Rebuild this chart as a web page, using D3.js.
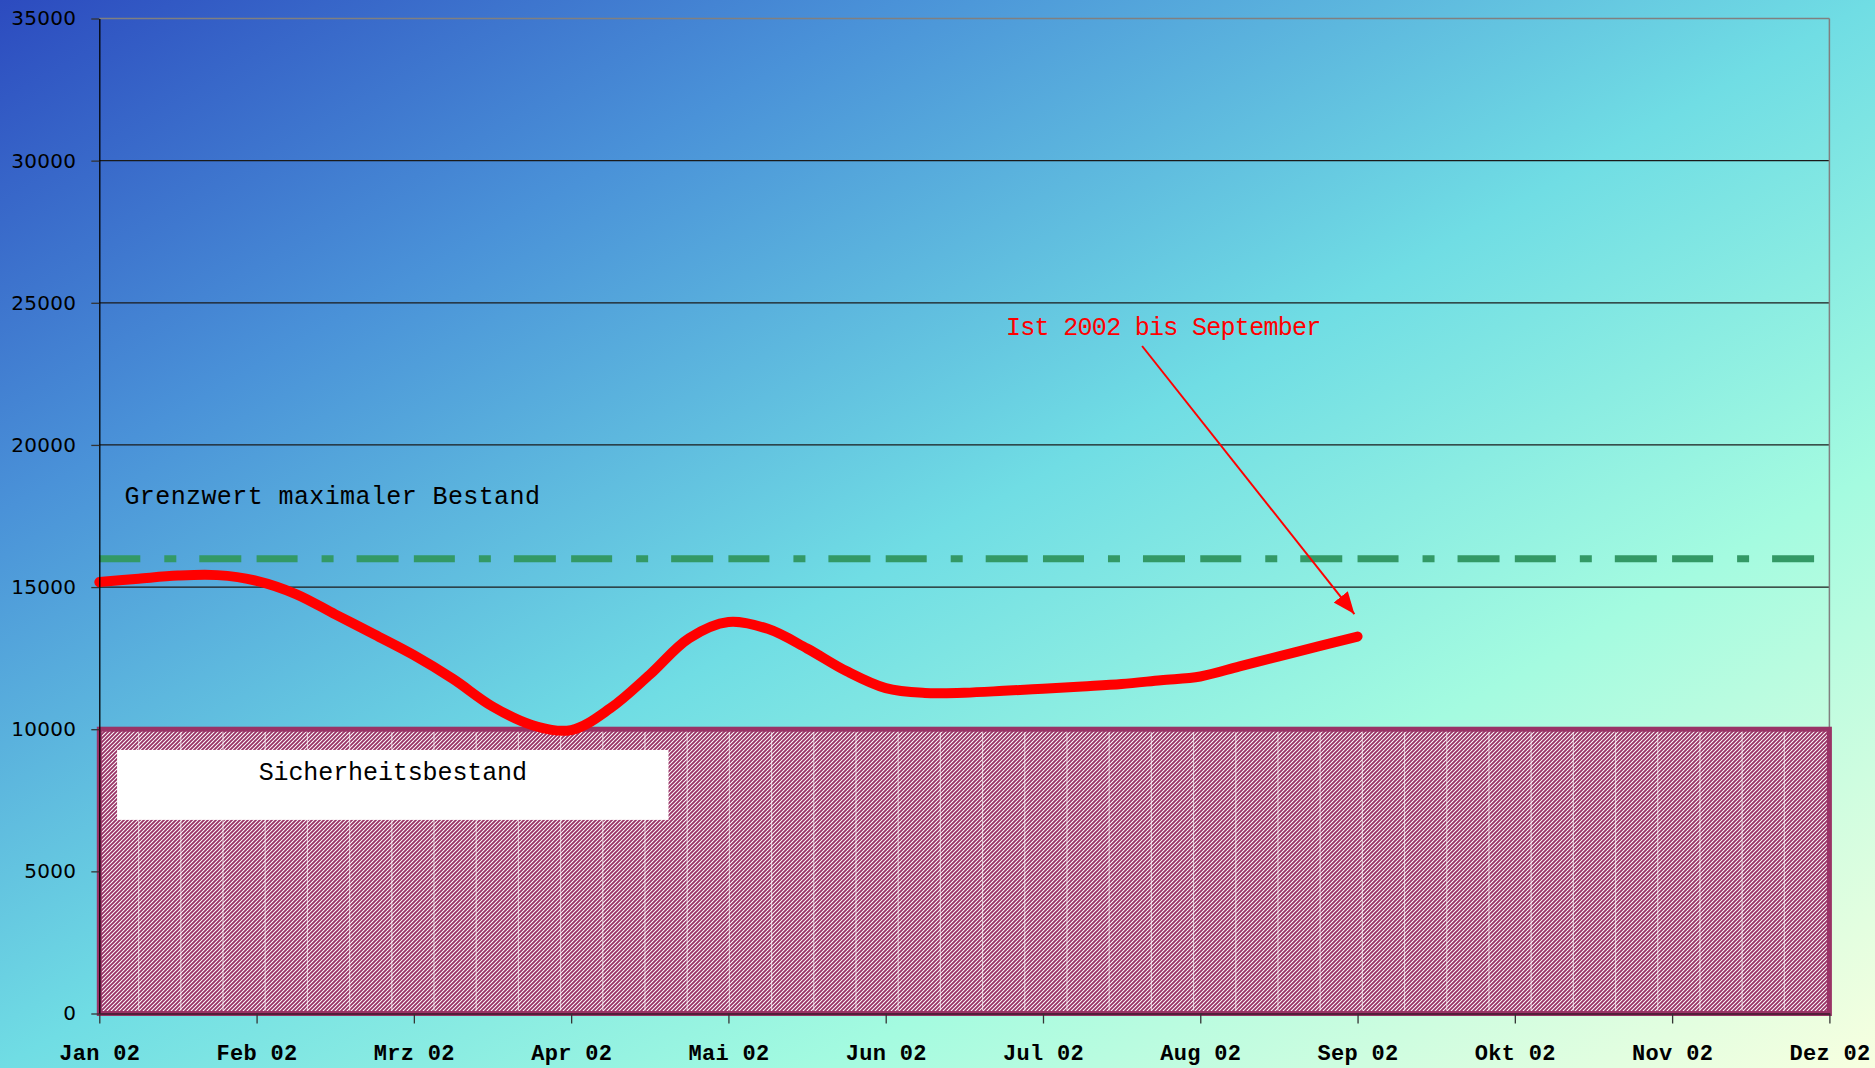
<!DOCTYPE html>
<html lang="de">
<head>
<meta charset="UTF-8">
<title>Bestand 2002</title>
<script src="https://d3js.org/d3.v7.min.js"></script>
<style>
  body { margin: 0; background: #fff; }
  svg { display: block; }
</style>
</head>
<body>
<svg id="chart"></svg>
<script>
const width = 1875;
const height = 1068;

// month labels on the x axis (German Excel style)
const monthLabels = ["Jan 02", "Feb 02", "Mrz 02", "Apr 02", "Mai 02", "Jun 02",
                     "Jul 02", "Aug 02", "Sep 02", "Okt 02", "Nov 02", "Dez 02"];
const yTicks = [0, 5000, 10000, 15000, 20000, 25000, 30000, 35000];

const istPos = [0, 0.25, 0.5, 0.75, 1, 1.25, 1.5, 1.75, 2, 2.25, 2.5, 2.75, 3,
                3.25, 3.5, 3.75, 4, 4.25, 4.5, 4.75, 5, 5.25, 5.5, 5.75, 6,
                6.25, 6.5, 6.75, 7, 7.25, 7.5, 7.75, 8];
const istValues = [15175, 15295, 15405, 15420, 15220, 14755, 14040, 13330, 12605,
                   11765, 10800, 10150, 9970, 10740, 11920, 13200, 13770, 13530,
                   12840, 12045, 11445, 11275, 11285, 11350, 11425, 11505, 11590,
                   11725, 11855, 12210, 12560, 12915, 13260];

const maxStock = 16000;      // Grenzwert maximaler Bestand
const safetyStock = 10000;   // Sicherheitsbestand

// annotation anchors in data units [month, value]
const maxLabelAt = [0.16, 17920];
const istLabelAt = [5.765, 23870];
const arrowFrom = [6.63, 23480];
const arrowTo = [7.98, 14050];
const safetyBox = {x0: 0.113, x1: 3.619, v0: 9270, v1: 6810, textV: 8215};

const margin = {left: 99.3, right: 1875 - 1829.4, top: 18.5, bottom: 1068 - 1013.5};

const x = d3.scaleLinear()
    .domain([0, 11])
    .range([margin.left, width - margin.right]);

const y = d3.scaleLinear()
    .domain([0, 35000])
    .range([height - margin.bottom, margin.top]);

const svg = d3.select("#chart")
    .attr("width", width)
    .attr("height", height)
    .attr("viewBox", [0, 0, width, height]);

const defs = svg.append("defs");

// background: diagonal gradient blue -> aqua -> pale yellow
const grad = defs.append("linearGradient")
    .attr("id", "bg")
    .attr("x1", 0).attr("y1", 0).attr("x2", 1).attr("y2", 1);
[[0, "#2c4bbf"], [0.24, "#4a92d8"], [0.5, "#70dde4"], [0.72, "#a4fbe0"], [1, "#f8ffe0"]]
    .forEach(s => grad.append("stop").attr("offset", s[0]).attr("stop-color", s[1]));

// hatch pattern for the safety stock area
const hatch = defs.append("pattern")
    .attr("id", "hatch")
    .attr("patternUnits", "userSpaceOnUse")
    .attr("width", 4).attr("height", 4);
hatch.append("rect").attr("width", 4).attr("height", 4).attr("fill", "#fff");
hatch.append("path")
    .attr("d", "M-1,1 l2,-2 M0,4 l4,-4 M3,5 l2,-2")
    .attr("stroke", "#993366")
    .attr("stroke-width", 1.9);

defs.append("marker")
    .attr("id", "arrowhead")
    .attr("markerUnits", "userSpaceOnUse")
    .attr("markerWidth", 24).attr("markerHeight", 20)
    .attr("refX", 22).attr("refY", 9)
    .attr("orient", "auto")
    .append("path")
    .attr("d", "M0,0 L22,9 L0,18 Z")
    .attr("fill", "#ff0000");

svg.append("rect")
    .attr("width", width).attr("height", height)
    .attr("fill", "url(#bg)");

// gridlines
svg.append("g")
    .selectAll("line")
    .data(yTicks.filter(d => d > 0))
    .join("line")
    .attr("x1", x(0)).attr("x2", x(11))
    .attr("y1", d => y(d)).attr("y2", d => y(d))
    .attr("stroke", d => d === 35000 ? "#808080" : "#1a1a1a")
    .attr("stroke-width", d => d === 35000 ? 1.5 : 1.2);

// right border of the plot area
svg.append("line")
    .attr("x1", x(11)).attr("x2", x(11))
    .attr("y1", y(35000)).attr("y2", y(0))
    .attr("stroke", "#808080")
    .attr("stroke-width", 1.5);

// safety stock area
svg.append("rect")
    .attr("x", x(0))
    .attr("y", y(safetyStock))
    .attr("width", x(11) - x(0))
    .attr("height", y(0) - y(safetyStock))
    .attr("fill", "url(#hatch)")
    .attr("stroke", "#993366")
    .attr("stroke-width", 5);

// faint tile seams in the hatch fill
svg.append("g")
    .attr("stroke", "#fff")
    .attr("stroke-width", 1.2)
    .attr("opacity", 0.6)
    .selectAll("line")
    .data(d3.range(0.25, 10.9, 11 / 41))
    .join("line")
    .attr("x1", d => x(d)).attr("x2", d => x(d))
    .attr("y1", y(safetyStock) + 3).attr("y2", y(0) - 3);

// white label box
svg.append("rect")
    .attr("x", x(safetyBox.x0))
    .attr("y", y(safetyBox.v0))
    .attr("width", x(safetyBox.x1) - x(safetyBox.x0))
    .attr("height", y(safetyBox.v1) - y(safetyBox.v0))
    .attr("fill", "#fff");

svg.append("text")
    .attr("x", (x(safetyBox.x0) + x(safetyBox.x1)) / 2)
    .attr("y", y(safetyBox.textV))
    .attr("text-anchor", "middle")
    .attr("font-family", "Liberation Mono, monospace")
    .attr("font-size", 25)
    .attr("letter-spacing", -0.1)
    .attr("fill", "#000")
    .text("Sicherheitsbestand");

// max stock dash-dot line
svg.append("path")
    .datum([0, 11])
    .attr("d", d3.line().x(d => x(d)).y(() => y(maxStock)))
    .attr("fill", "none")
    .attr("stroke", "#339966")
    .attr("stroke-width", 7)
    .attr("stroke-dasharray", "41 24 12 23 42 15.28");

svg.append("text")
    .attr("x", x(maxLabelAt[0]))
    .attr("y", y(maxLabelAt[1]))
    .attr("font-family", "Liberation Mono, monospace")
    .attr("font-size", 25)
    .attr("letter-spacing", 0.4)
    .attr("fill", "#000")
    .text("Grenzwert maximaler Bestand");

// actual stock line
const line = d3.line()
    .x((d, i) => x(istPos[i]))
    .y(d => y(d))
    .curve(d3.curveCatmullRom.alpha(0.5));

svg.append("path")
    .datum(istValues)
    .attr("d", line)
    .attr("fill", "none")
    .attr("stroke", "#ff0000")
    .attr("stroke-width", 10)
    .attr("stroke-linecap", "round")
    .attr("stroke-linejoin", "round");

// axes
const yAxis = svg.append("g")
    .attr("transform", `translate(${x(0)},0)`)
    .call(d3.axisLeft(y).tickValues(yTicks).tickFormat(d3.format("d"))
        .tickSize(8).tickPadding(15).tickSizeOuter(0));
yAxis.selectAll("text")
    .attr("font-family", "DejaVu Sans, sans-serif")
    .attr("font-size", 20)
    .attr("letter-spacing", 0.3)
    .attr("fill", "#000");
yAxis.select(".domain").attr("stroke", "#000").attr("stroke-width", 1.3);
yAxis.selectAll(".tick line").attr("stroke", "#333").attr("stroke-width", 1.3);

const xAxis = svg.append("g")
    .attr("transform", `translate(0,${y(0)})`)
    .call(d3.axisBottom(x).tickValues(d3.range(12)).tickFormat(i => monthLabels[i])
        .tickSize(10).tickPadding(21).tickSizeOuter(0));
xAxis.selectAll("text")
    .attr("font-family", "Liberation Mono, monospace")
    .attr("font-weight", "bold")
    .attr("font-size", 22)
    .attr("letter-spacing", 0.3)
    .attr("fill", "#000");
xAxis.select(".domain").attr("stroke", "#3a1a2a").attr("stroke-width", 1.5);
xAxis.selectAll(".tick line").attr("stroke", "#333").attr("stroke-width", 1.3);

// annotation for the actual line
svg.append("text")
    .attr("x", x(istLabelAt[0]))
    .attr("y", y(istLabelAt[1]))
    .attr("font-family", "Liberation Mono, monospace")
    .attr("font-size", 25)
    .attr("letter-spacing", -0.7)
    .attr("fill", "#ff0000")
    .text("Ist 2002 bis September");

svg.append("line")
    .attr("x1", x(arrowFrom[0])).attr("y1", y(arrowFrom[1]))
    .attr("x2", x(arrowTo[0])).attr("y2", y(arrowTo[1]))
    .attr("stroke", "#ff0000")
    .attr("stroke-width", 2)
    .attr("marker-end", "url(#arrowhead)");
</script>
</body>
</html>
